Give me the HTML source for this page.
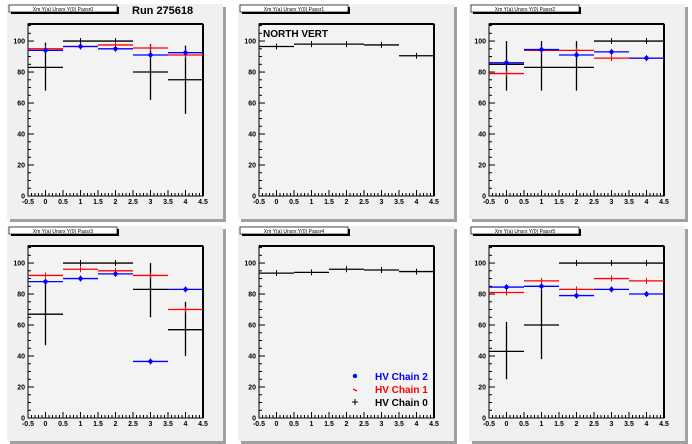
<!DOCTYPE html>
<html><head><meta charset="utf-8"><style>
body{margin:0;background:#fff;}
svg{display:block;font-family:"Liberation Sans",sans-serif;}
</style></head><body>
<svg id="s" width="692" height="444" xmlns="http://www.w3.org/2000/svg"></svg>
<script>
const s=document.getElementById('s');let h='';
h+='<rect x="0" y="0" width="692" height="444" fill="#fff"/>';
const padX=[7,238,469],padY=[4,226];
const frX=[28,259,489];
const data=[
 {b:[[83,68,99],[100],[100],[80,62,98],[75,53,97]],r:[95,96.5,97.5,95.5,91],u:[94,96.5,95,91,92.5],t:'Run 275618'},
 {b:[[96.5],[98],[98],[97.5],[90.5]],t:'NORTH VERT'},
 {b:[[85,68,100],[83,68,100],[83,68,100],[100],[100]],r:[79,94,94,89,89],u:[86,94.5,91,93,89]},
 {b:[[67,47,87],[100],[100],[83,65,100],[57,40,75]],r:[92,96,95,92,70],u:[88,90,93,36.5,83]},
 {b:[[93.5],[94],[96],[95.5],[94.5]],leg:1},
 {b:[[43,25,62],[60,38,83],[100],[100],[100]],r:[81,88.5,83,90,88.5],u:[84.5,85,79,83,80]}
];
data.forEach((d,i)=>{
 const c=i%3,r=Math.floor(i/3);
 const px=padX[c],py=padY[r];
 h+=`<rect x="${px+3}" y="${py+3}" width="216" height="215" fill="#a0a0a0"/>`;
 h+=`<rect x="${px}" y="${py}" width="216" height="215" fill="#f0f0f0"/>`;
 const fl=frX[c],fr=fl+175,ft=py+20,fb=py+192;
 h+=`<rect x="${fl}" y="${ft}" width="${fr-fl}" height="${fb-ft}" fill="#f3f3f3" stroke="#000" stroke-width="1"/>`;
 h+=`<line x1="${fl}" y1="${ft}" x2="${fr}" y2="${ft}" stroke="#000" stroke-width="2"/>`;
 h+=`<line x1="${fr}" y1="${ft}" x2="${fr}" y2="${fb}" stroke="#000" stroke-width="2"/>`;
 // title box
 h+=`<rect x="${px+4}" y="${py+3}" width="108" height="7" fill="#000"/><rect x="${px+2}" y="${py+1}" width="108" height="7" fill="#fff" stroke="#000" stroke-width="0.7"/>`;
 h+=`<text x="${px+56}" y="${py+7}" font-size="5" text-anchor="middle">Xm Y(a) Unsrx Y(0) Passr${i}</text>`;
 if(d.t) h+=`<text x="${px+(i==0?125:25)}" y="${py+(i==0?10:33)}" font-size="${i==0?11:10}" font-weight="bold">${d.t}</text>`;
 const X=v=>fl+(v+0.5)/5*(fr-fl);
 const Y=v=>fb-v/111*(fb-ft);
 // y ticks
 for(let v=0;v<=110;v+=5){const L=v%20==0?6:3;h+=`<line x1="${fl}" y1="${Y(v)}" x2="${fl+L}" y2="${Y(v)}" stroke="#000" stroke-width="1"/>`;}
 for(let v=0;v<=100;v+=20)h+=`<text x="${fl-3}" y="${Y(v)+2.5}" font-size="7" font-weight="bold" text-anchor="end">${v}</text>`;
 for(let k=0;k<=50;k++){const v=-0.5+k*0.1;const L=k%5==0?6:3;h+=`<line x1="${X(v)}" y1="${fb}" x2="${X(v)}" y2="${fb-L}" stroke="#000" stroke-width="1"/>`;}
 ['-0.5','0','0.5','1','1.5','2','2.5','3','3.5','4','4.5'].forEach((t,k)=>{h+=`<text x="${X(-0.5+k*0.5)}" y="${fb+8}" font-size="7" font-weight="bold" text-anchor="middle">${t}</text>`;});
 const ser=(arr,col)=>arr.forEach((v,k)=>{const val=Array.isArray(v)?v[0]:v;
   h+=`<line x1="${X(k-0.5)}" y1="${Y(val)}" x2="${X(k+0.5)}" y2="${Y(val)}" stroke="${col}" stroke-width="1.3"/>`;
   if(Array.isArray(v)&&v.length>1)h+=`<line x1="${X(k)}" y1="${Y(v[1])}" x2="${X(k)}" y2="${Y(v[2])}" stroke="${col}" stroke-width="1.3"/>`;
   else h+=`<line x1="${X(k)}" y1="${Y(val)-3}" x2="${X(k)}" y2="${Y(val)+3}" stroke="${col}" stroke-width="1"/>`;
   if(col=='#00f')h+=`<circle cx="${X(k)}" cy="${Y(val)}" r="2.2" fill="#00f"/>`;
 });
 ser(d.b,'#000');
 if(d.r)ser(d.r,'#f00');
 if(d.u)ser(d.u,'#00f');
 if(d.leg){
  const lx=px+137,ly=py+150;
  h+=`<circle cx="${px+117}" cy="${py+150}" r="2.2" fill="#00f"/><text x="${lx}" y="${ly+4}" font-size="10" font-weight="bold" fill="#00f">HV Chain 2</text>`;
  h+=`<line x1="${px+115}" y1="${py+163}" x2="${px+119}" y2="${py+165}" stroke="#f00" stroke-width="1.3"/><text x="${lx}" y="${ly+17}" font-size="10" font-weight="bold" fill="#f00">HV Chain 1</text>`;
  h+=`<path d="M${px+114} ${py+176}h6M${px+117} ${py+173}v6" stroke="#000" stroke-width="1"/><text x="${lx}" y="${ly+30}" font-size="10" font-weight="bold">HV Chain 0</text>`;
 }
});
s.innerHTML=h;
</script>
</body></html>
